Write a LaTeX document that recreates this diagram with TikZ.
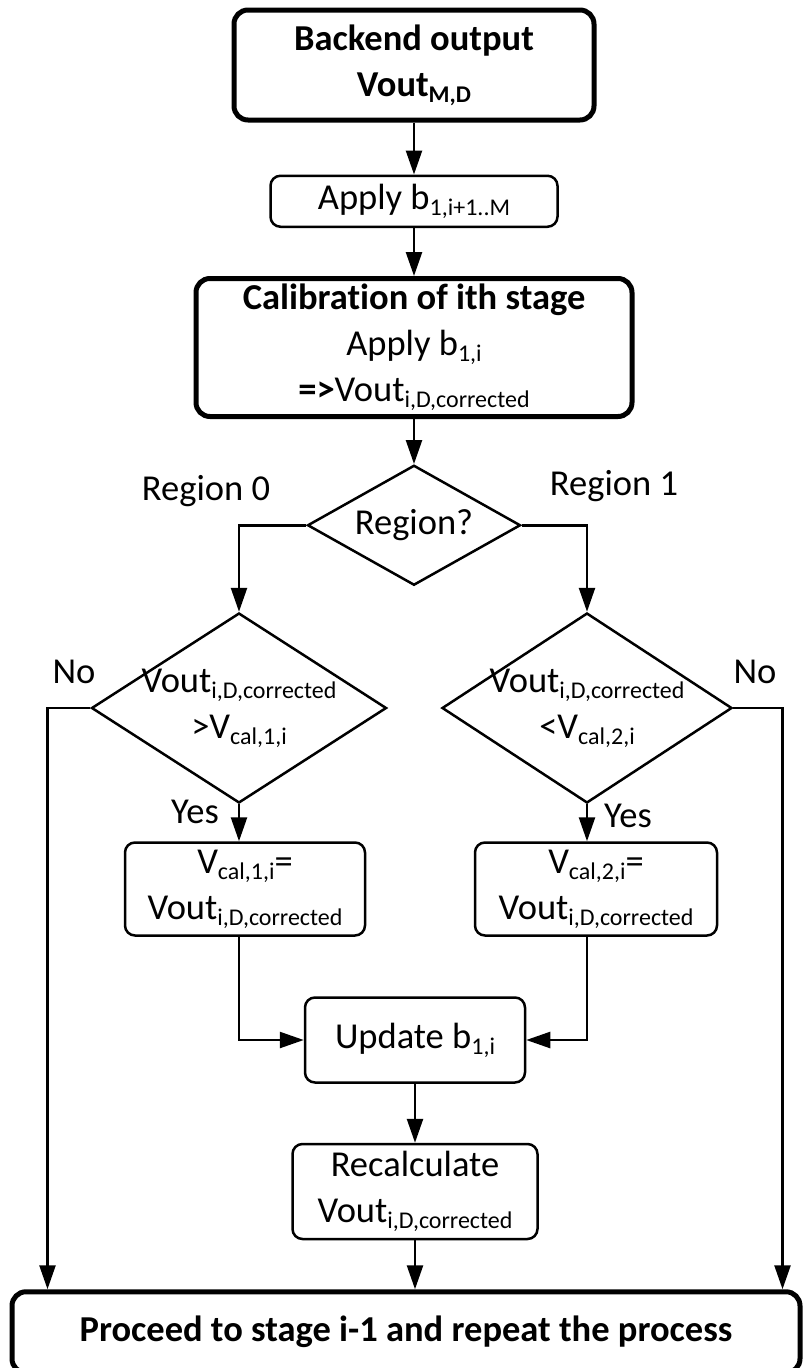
\documentclass[tikz,border=0pt]{standalone}
\usepackage{fontspec}
\setmainfont{Carlito}[Ligatures=NoCommon]
\usetikzlibrary{arrows.meta,positioning,shapes.geometric}
\newcommand{\flowfont}{\fontsize{36.5}{46}\selectfont}
\newcommand{\subtxt}[1]{\raisebox{-6pt}{\fontsize{24}{24}\selectfont #1}}
\tikzset{
  flowbox/.style={draw, line width=2.5pt, rounded corners=10pt, align=center, font=\flowfont, inner sep=0pt},
  flowhead/.style={flowbox, line width=5pt, rounded corners=14pt},
  flowcheck/.style={draw, diamond, line width=2.5pt, align=center, font=\flowfont, inner sep=-25pt},
  flowarrow/.style={-{Triangle[length=24pt,width=16pt]}, line width=2.5pt},
  flowlabel/.style={font=\flowfont, anchor=base, inner sep=0pt}
}

\begin{document}
\begin{tikzpicture}[x=1pt, y=-1pt]
\useasboundingbox (0,0) rectangle (804,1368);

\node[flowhead, font=\flowfont\bfseries, minimum width=360pt, minimum height=110pt] (backend) at (414,65) {Backend output\\Vout\subtxt{M,D}};
\node[flowbox, below=52pt of backend, minimum width=287pt, minimum height=51pt] (applyrest) {Apply b\subtxt{1,i+1..M}};
\node[flowhead, below=48pt of applyrest, minimum width=436pt, minimum height=138pt] (calib) {\textbf{Calibration of ith stage}\\Apply b\subtxt{1,i}\\\textbf{=>}Vout\subtxt{i,D,corrected}};
\node[flowcheck, inner sep=0pt, aspect=1.8, below=45pt of calib, minimum width=213pt, minimum height=120pt] (region) {Region?};

\node[flowcheck, minimum width=295pt, minimum height=190pt] (chk0) at (239,708) {Vout\subtxt{i,D,corrected}\\>V\subtxt{cal,1,i}};
\node[flowcheck, minimum width=290pt, minimum height=190pt] (chk1) at (587,708) {Vout\subtxt{i,D,corrected}\\<V\subtxt{cal,2,i}};
\node[flowbox, below=37pt of chk0, xshift=6pt, minimum width=240pt, minimum height=93pt] (set0) {V\subtxt{cal,1,i}=\\Vout\subtxt{i,D,corrected}};
\node[flowbox, below=37pt of chk1, xshift=9pt, minimum width=242pt, minimum height=93pt] (set1) {V\subtxt{cal,2,i}=\\Vout\subtxt{i,D,corrected}};

\node[flowbox, minimum width=220pt, minimum height=85pt] (update) at (415,1040) {Update b\subtxt{1,i}};
\node[flowbox, below=59pt of update, minimum width=245pt, minimum height=95pt] (recalc) {Recalculate\\Vout\subtxt{i,D,corrected}};
\node[flowhead, font=\flowfont\bfseries, below=49pt of recalc, xshift=-9pt, minimum width=788pt, minimum height=81pt] (proceed) {Proceed to stage i-1 and repeat the process};

% branch labels
\node[flowlabel] (lreg0) at (206,500) {Region 0};
\node[flowlabel] (lreg1) at (614,495) {Region 1};
\node[flowlabel] (lno0) at (74,683) {No};
\node[flowlabel] (lno1) at (755,683) {No};
\node[flowlabel] (lyes0) at (195,823) {Yes};
\node[flowlabel] (lyes1) at (628,827) {Yes};

\draw[flowarrow] (backend) -- (applyrest);
\draw[flowarrow] (applyrest) -- (calib);
\draw[flowarrow] (calib) -- (region);
\draw[flowarrow] (region.west) -| (chk0.north);
\draw[flowarrow] (region.east) -| (chk1.north);
\draw[flowarrow] (chk0.south) -- (chk0.south |- set0.north);
\draw[flowarrow] (chk1.south) -- (chk1.south |- set1.north);
\draw[flowarrow] (chk0.south |- set0.south) |- (update.west);
\draw[flowarrow] (chk1.south |- set1.south) |- (update.east);
\draw[flowarrow] (update) -- (recalc);
\draw[flowarrow] (recalc) -- (recalc |- proceed.north);
\draw[flowarrow] (chk0.west) -| ([xshift=38pt]proceed.north west);
\draw[flowarrow] (chk1.east) -| ([xshift=-20pt]proceed.north east);
\end{tikzpicture}
\end{document}
